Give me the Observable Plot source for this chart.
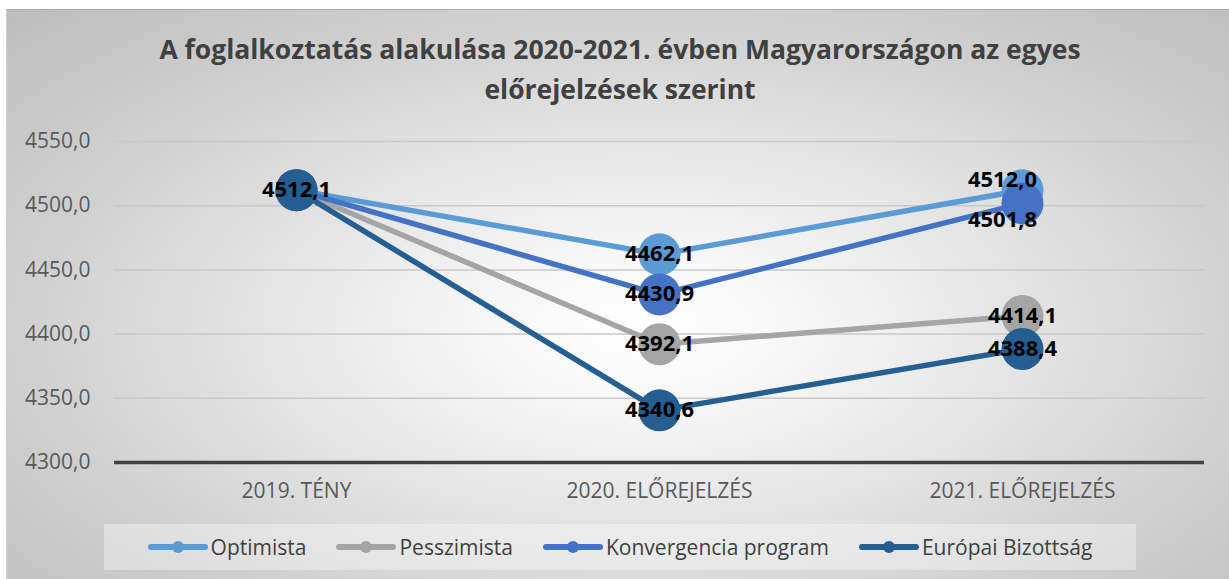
<!DOCTYPE html>
<html>
<head>
<meta charset="utf-8">
<script src="https://cdn.jsdelivr.net/npm/d3@7"></script>
<script src="https://cdn.jsdelivr.net/npm/@observablehq/plot@0.6"></script>
<style>
  html, body { margin: 0; padding: 0; width: 1229px; height: 579px; overflow: hidden; background: #ffffff; font-family: "Open Sans", sans-serif; }
  #bg { position: absolute; left: 6px; top: 9px; width: 1223px; height: 570px;
        border-top: 1px solid #a9a9a9; border-left: 1px solid #d0d0d0; box-sizing: border-box;
        background: radial-gradient(ellipse farthest-corner at 52% 56%, #ffffff 0%, #f6f6f6 18%, #e2e2e2 45%, #cfcfcf 70%, #bdbdbd 100%); }
  #title { position: absolute; left: 6px; width: 1228px; top: 29px; text-align: center;
           font-weight: 700; font-size: 26.5px; line-height: 40px; color: #404040; }
  #chart { position: absolute; left: 0; top: 110px; }
  #legend { position: absolute; left: 104px; top: 524px; width: 1032px; height: 46px;
            background: rgba(255,255,255,0.35); display: flex; align-items: center; justify-content: center; gap: 30px; }
  .item { display: flex; align-items: center; font-size: 21px; color: #404040; }
  .item svg { margin-right: 3px; }
</style>
</head>
<body>
<div id="bg"></div>
<div id="title">A foglalkoztatás alakulása 2020-2021. évben Magyarországon az egyes<br>előrejelzések szerint</div>
<div id="chart"></div>
<div id="legend"></div>
<script>
const categories = ["2019. TÉNY", "2020. ELŐREJELZÉS", "2021. ELŐREJELZÉS"];
const seriesNames = ["Optimista", "Pesszimista", "Konvergencia program", "Európai Bizottság"];
const optimista = [4512.1, 4462.1, 4512.0];
const pesszimista = [4512.1, 4392.1, 4414.1];
const konvergencia = [4512.1, 4430.9, 4501.8];
const europai = [4512.1, 4340.6, 4388.4];
const seriesColors = ["#5b9bd5", "#a5a5a5", "#4472c4", "#255e91"];
const yTicks = [4300, 4350, 4400, 4450, 4500, 4550];

const seriesValues = [optimista, pesszimista, konvergencia, europai];
const rows = [];
seriesNames.forEach((s, i) => categories.forEach((c, j) => rows.push({series: s, cat: c, value: seriesValues[i][j]})));

const fmt = v => d3.format(".1f")(v).replace(".", ",");

// one label per distinct (category, value) pair
const seen = new Set();
const labelRows = rows.filter(d => { const k = d.cat + "|" + d.value; if (seen.has(k)) return false; seen.add(k); return true; });
const isUpper = d => d.cat === categories[2] && d.series === seriesNames[0];
const isLower = d => d.cat === categories[2] && d.series === seriesNames[2];
const isPlain = d => !isUpper(d) && !isLower(d);

const seriesMarks = seriesNames.flatMap(s => {
  const data = rows.filter(d => d.series === s);
  return [
    Plot.line(data, {x: "cat", y: "value", stroke: "series", strokeWidth: 5.5, strokeLinecap: "round", strokeLinejoin: "round"}),
    Plot.dot(data, {x: "cat", y: "value", fill: "series", r: 21, stroke: null})
  ];
});

const labelStyle = {x: "cat", y: "value", text: d => fmt(d.value), fill: "#000", fontWeight: 700, fontSize: 22};

const chart = Plot.plot({
  width: 1229,
  height: 410,
  marginLeft: 114,
  marginRight: 25,
  marginTop: 31,
  marginBottom: 58,
  style: {background: "transparent", fontFamily: "Open Sans, sans-serif", overflow: "visible"},
  x: {type: "point", domain: categories, padding: 0.5, label: null},
  y: {domain: [4300, 4550], label: null},
  color: {domain: seriesNames, range: seriesColors},
  marks: [
    Plot.ruleY(yTicks.filter(t => t !== 4300), {stroke: "#c8c8c8", strokeWidth: 1.5}),
    Plot.ruleY([4300], {stroke: "#404040", strokeWidth: 3.5}),
    Plot.axisY(yTicks, {tickSize: 0, tickPadding: 24, tickFormat: fmt, fontSize: 21, fill: "#595959", label: null}),
    Plot.axisX({tickSize: 0, tickPadding: 21, fontSize: 21, fill: "#595959", label: null}),
    ...seriesMarks,
    Plot.text(labelRows.filter(isPlain), labelStyle),
    Plot.text(labelRows.filter(isUpper), {...labelStyle, dx: -20, dy: -10}),
    Plot.text(labelRows.filter(isLower), {...labelStyle, dx: -20, dy: 17})
  ]
});
document.getElementById("chart").appendChild(chart);

// legend
const legend = d3.select("#legend");
seriesNames.forEach((s, i) => {
  const item = legend.append("div").attr("class", "item");
  const svg = item.append("svg").attr("width", 60).attr("height", 14);
  svg.append("line").attr("x1", 3).attr("x2", 57).attr("y1", 7).attr("y2", 7)
     .attr("stroke", seriesColors[i]).attr("stroke-width", 6).attr("stroke-linecap", "round");
  svg.append("circle").attr("cx", 30).attr("cy", 7).attr("r", 6).attr("fill", seriesColors[i]);
  item.append("span").text(s);
});
</script>
</body>
</html>
